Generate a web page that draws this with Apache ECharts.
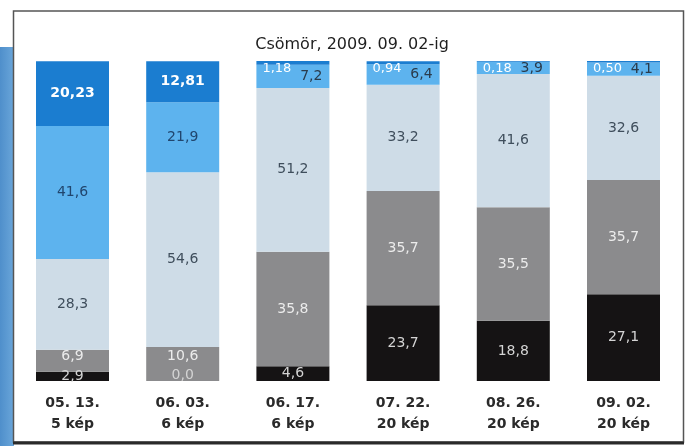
<!DOCTYPE html>
<html>
<head>
<meta charset="utf-8">
<script src="https://cdn.jsdelivr.net/npm/echarts@6/dist/echarts.min.js"></script>
<style>
html,body{margin:0;padding:0;background:#fff;}
#chart{width:686px;height:446px;}
</style>
</head>
<body>
<div id="chart"></div>
<script>
const dates = ['05. 13.', '06. 03.', '06. 17.', '07. 22.', '08. 26.', '09. 02.'];
const counts = ['5 kép', '6 kép', '6 kép', '20 kép', '20 kép', '20 kép'];
const blackVals = [2.9, 0.0, 4.6, 23.7, 18.8, 27.1];
const grayVals = [6.9, 10.6, 35.8, 35.7, 35.5, 35.7];
const lightGrayVals = [28.3, 54.6, 51.2, 33.2, 41.6, 32.6];
const lightBlueVals = [41.6, 21.9, 7.2, 6.4, 3.9, 4.1];
const darkBlueVals = [20.23, 12.81, 1.18, 0.94, 0.18, 0.50];
const titleText = 'Csömör, 2009. 09. 02-ig';

const categories = dates.map((d, i) => d + '\n' + counts[i]);
const FONT = 'DejaVu Sans';
const fmt = (dec) => (p) => p.value.toFixed(dec).replace('.', ',');

function items(vals, labelFn) {
  return vals.map((v, i) => {
    const lab = labelFn ? labelFn(i) : null;
    return lab ? { value: v, label: lab } : { value: v };
  });
}

const chart = echarts.init(document.getElementById('chart'), null, { renderer: 'canvas' });

const baseSeries = {
  type: 'bar',
  stack: 'total',
  barWidth: 73,
  silent: true,
  animation: false
};

chart.setOption({
  animation: false,
  backgroundColor: '#ffffff',
  graphic: [
    { type: 'rect', z: -10, shape: { x: 0, y: 47, width: 14, height: 399 },
      style: { fill: new echarts.graphic.LinearGradient(0, 0, 1, 0, [
        { offset: 0, color: '#4f8fcb' }, { offset: 1, color: '#6aa6da' }]) } },
    { type: 'rect', z: -9, shape: { x: 13.5, y: 11, width: 670, height: 431 },
      style: { fill: '#ffffff', stroke: '#555555', lineWidth: 1.5 } },
    { type: 'line', z: -8, shape: { x1: 13, y1: 443, x2: 684, y2: 443 },
      style: { stroke: '#2a2a2a', lineWidth: 3 } }
  ],
  title: {
    text: titleText,
    left: 347,
    top: 32,
    textAlign: 'center',
    textStyle: { fontFamily: FONT, fontSize: 16, fontWeight: 'normal', color: '#1e1e1e' }
  },
  grid: { left: 17.4, right: 7.4, top: 61, bottom: 65 },
  xAxis: {
    type: 'category',
    data: categories,
    axisLine: { show: false },
    axisTick: { show: false },
    splitLine: { show: false },
    axisLabel: {
      interval: 0,
      margin: 12,
      fontFamily: FONT,
      fontSize: 14,
      fontWeight: 'bold',
      lineHeight: 21,
      color: '#2a2a2a'
    }
  },
  yAxis: { type: 'value', min: 0, max: 100, show: false, splitLine: { show: false } },
  series: [
    Object.assign({}, baseSeries, {
      name: 'black',
      itemStyle: { color: '#151314' },
      label: { show: true, position: 'inside', formatter: fmt(1), fontFamily: FONT, fontSize: 14, color: '#d4d4d4' },
      data: items(blackVals, (i) => i === 1 ? { offset: [0, -6] } : (i === 0 ? { offset: [0, 0] } : null))
    }),
    Object.assign({}, baseSeries, {
      name: 'gray',
      itemStyle: { color: '#8b8b8d' },
      label: { show: true, position: 'inside', formatter: fmt(1), fontFamily: FONT, fontSize: 14, color: '#ececec' },
      data: items(grayVals, (i) => i === 0 ? { offset: [0, -4] } : (i === 1 ? { offset: [0, -8] } : null))
    }),
    Object.assign({}, baseSeries, {
      name: 'lightgray',
      itemStyle: { color: '#cedce7' },
      label: { show: true, position: 'inside', formatter: fmt(1), fontFamily: FONT, fontSize: 14, color: '#3f4e5c' }
      , data: items(lightGrayVals)
    }),
    Object.assign({}, baseSeries, {
      name: 'lightblue',
      itemStyle: { color: '#5db3ee' },
      label: { show: true, position: 'inside', formatter: fmt(1), fontFamily: FONT, fontSize: 14, color: '#21466e' },
      data: items(lightBlueVals, (i) => i >= 2 ? { position: 'insideRight', distance: 7, color: '#2a3b4c' } : null)
    }),
    Object.assign({}, baseSeries, {
      name: 'darkblue',
      itemStyle: { color: '#1b7dd0' },
      label: { show: true, position: 'inside', formatter: fmt(2), fontFamily: FONT, fontSize: 14, fontWeight: 'bold', color: '#ffffff' },
      data: items(darkBlueVals, (i) => i >= 2 ? { position: [6, 1], fontSize: 13, fontWeight: 'normal', align: 'left', verticalAlign: 'top' } : null)
    })
  ]
});
</script>
</body>
</html>
